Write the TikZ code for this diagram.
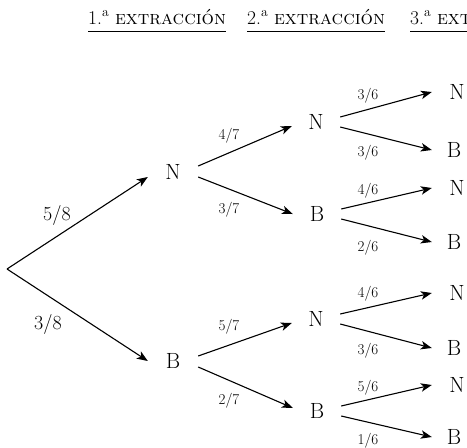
\documentclass[tikz,border=0pt]{standalone}
\usetikzlibrary{arrows.meta}
\begin{document}
\begin{tikzpicture}[x=1pt,y=-1pt,
  arr/.style={line width=1.1pt,-{Stealth[length=11pt,width=8.5pt,inset=3pt]}},
  outc/.style={font=\fontsize{22}{26}\selectfont,inner sep=0pt,minimum width=50pt,minimum height=16pt},
  bigp/.style={font=\fontsize{20}{24}\selectfont,inner sep=0pt},
  smallp/.style={font=\fontsize{15}{18}\selectfont,inner sep=0pt},
  hdr/.style={font=\fontsize{19.5}{23}\selectfont,inner sep=0pt,anchor=base west},
  uline/.style={line width=0.8pt}]
\useasboundingbox (0,0) rectangle (467,448);

% headers
\node[hdr] (h1) at (88,24) {1.\textsuperscript{a} \textsc{extracción}};
\node[hdr] (h2) at (247,24) {2.\textsuperscript{a} \textsc{extracción}};
\node[hdr] (h3) at (410,24) {3.\textsuperscript{a} \textsc{extracción}};
\draw[uline] ([yshift=-7pt]h1.base west) -- ([yshift=-7pt]h1.base east);
\draw[uline] ([yshift=-7pt]h2.base west) -- ([yshift=-7pt]h2.base east);
\draw[uline] ([yshift=-7pt]h3.base west) -- ([yshift=-7pt]h3.base east);

% root
\coordinate (R) at (7,269);

% level 1
\node[outc] (N1) at (173,172) {N};
\node[outc] (B1) at (173,361) {B};

% level 2
\node[outc,minimum width=48pt] (N2a) at (316,122) {N};
\node[outc,minimum width=48pt] (B2a) at (317,214) {B};
\node[outc,minimum width=48pt] (N2b) at (316,319) {N};
\node[outc,minimum width=48pt] (B2b) at (317,411) {B};

% level 3
\node[outc,minimum width=50pt] (N3a) at (457,92) {N};
\node[outc,minimum width=44pt] (B3a) at (454,150) {B};
\node[outc,minimum width=50pt] (N3b) at (457,188) {N};
\node[outc,minimum width=44pt] (B3b) at (454,242) {B};
\node[outc,minimum width=50pt] (N3c) at (457,293) {N};
\node[outc,minimum width=44pt] (B3c) at (454,348) {B};
\node[outc,minimum width=50pt] (N3d) at (457,385) {N};
\node[outc,minimum width=44pt,minimum height=0pt] (B3d) at (454,437) {B};

% root edges
\draw[arr] (R) -- ([yshift=-5pt]N1.west);
\draw[arr] (R) -- (B1.west);

% level 1 -> 2
\draw[arr] ([yshift=6pt]N1.east) -- ([yshift=-4pt]N2a.west);
\draw[arr] ([yshift=-5pt]N1.east) -- (B2a.west);
\draw[arr] ([yshift=5pt]B1.east) -- ([yshift=-4pt]N2b.west);
\draw[arr] ([yshift=-6pt]B1.east) -- ([yshift=3pt]B2b.west);

% level 2 -> 3
\draw[arr] ([yshift=5pt]N2a.east) -- (N3a.west);
\draw[arr] ([yshift=-5pt]N2a.east) -- (B3a.west);
\draw[arr] ([yshift=5pt]B2a.east) -- (N3b.west);
\draw[arr] ([yshift=-5pt]B2a.east) -- (B3b.west);
\draw[arr] ([yshift=5pt]N2b.east) -- (N3c.west);
\draw[arr] ([yshift=-5pt]N2b.east) -- (B3c.west);
\draw[arr] ([yshift=5pt]B2b.east) -- (N3d.west);
\draw[arr] ([yshift=-5pt]B2b.east) -- (B3d.west);

% labels
\node[bigp] (p58) at (57,215) {5/8};
\node[bigp] (p38) at (48,324) {3/8};
\node[smallp] (p47) at (229,136) {4/7};
\node[smallp] (p37) at (229,210) {3/7};
\node[smallp] (p57) at (229,327) {5/7};
\node[smallp] (p27) at (229,401) {2/7};
\node[smallp] (q1) at (368,96) {3/6};
\node[smallp] (q2) at (368,153) {3/6};
\node[smallp] (q3) at (368,191) {4/6};
\node[smallp] (q4) at (368,248) {2/6};
\node[smallp] (q5) at (368,294) {4/6};
\node[smallp] (q6) at (368,351) {3/6};
\node[smallp] (q7) at (368,388) {5/6};
\node[smallp] (q8) at (368,441) {1/6};
\end{tikzpicture}
\end{document}
